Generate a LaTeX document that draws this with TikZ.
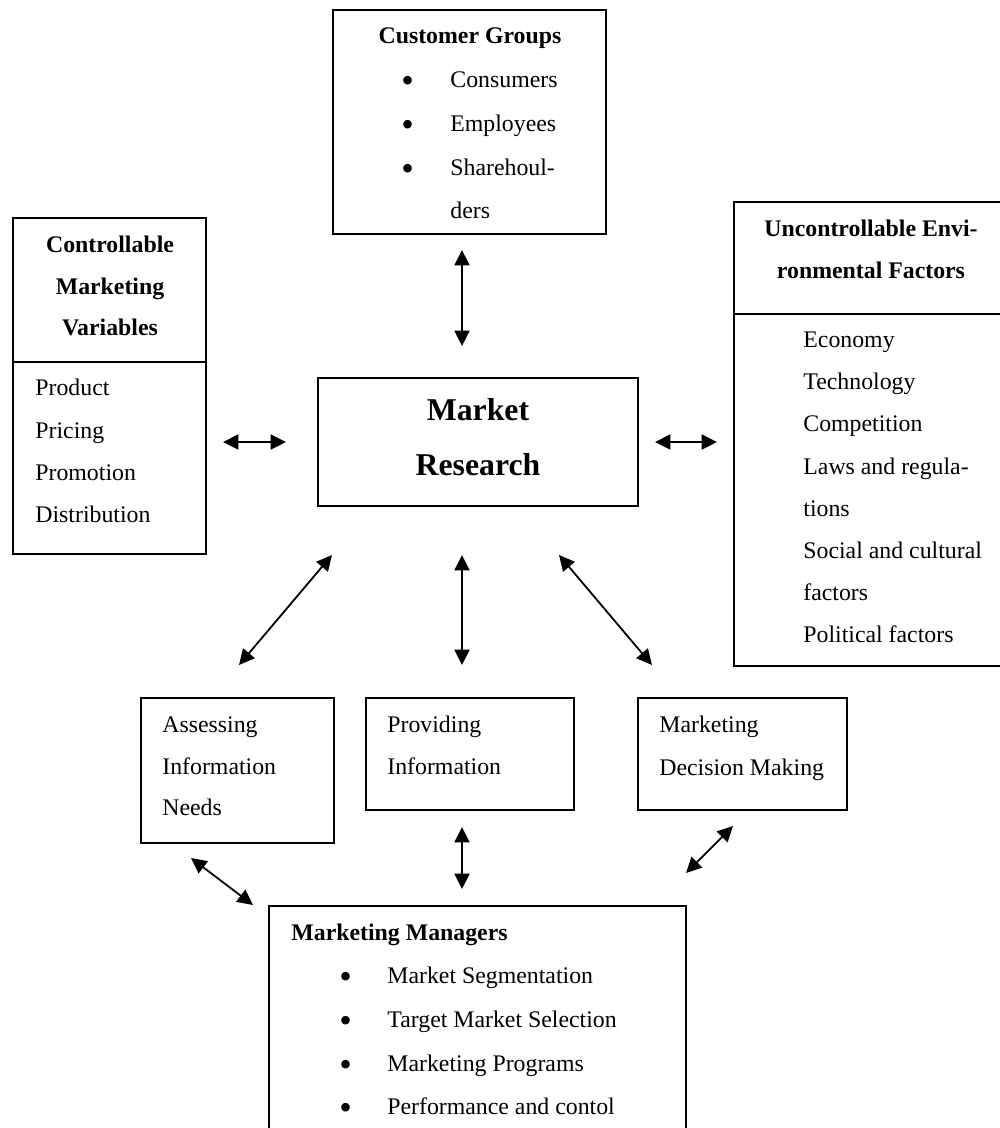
\documentclass[tikz,border=0pt]{standalone}
\usepackage{fontspec}
\setmainfont{Liberation Serif}
\usetikzlibrary{arrows.meta,fit}
\begin{document}
\begin{tikzpicture}[x=0.504pt,y=-0.504pt,
  box/.style={draw,line width=1pt,inner sep=0pt},
  sep/.style={line width=1pt},
  txt/.style={inner sep=0pt,anchor=base west,font=\fontsize{12}{14}\selectfont},
  bul/.style={inner sep=0pt,anchor=base west,font=\fontsize{18}{20}\selectfont},
  ttl/.style={inner sep=0pt,anchor=base,font=\fontsize{12}{14}\selectfont\bfseries},
  ttlw/.style={inner sep=0pt,anchor=base west,font=\fontsize{12}{14}\selectfont\bfseries},
  big/.style={inner sep=0pt,anchor=base,font=\fontsize{16}{19}\selectfont\bfseries},
  dbl/.style={line width=0.9pt,{Triangle[length=7.8pt,width=7.6pt]}-{Triangle[length=7.8pt,width=7.6pt]}},
]
\useasboundingbox (0,0) rectangle (1000,1128);
\clip (0,0) rectangle (1000,1128);

% ---------- boxes ----------
\node[box,fit={(333,10) (606,234)}] (cust) {};
\node[box,fit={(13,218) (206,554)}] (ctrl) {};
\node[box,fit={(318,378) (638,506)}] (mr) {};
\node[box,fit={(734,202) (1010,666)}] (unc) {};
\node[box,fit={(141,698) (334,843)}] (assess) {};
\node[box,fit={(366,698) (574,810)}] (prov) {};
\node[box,fit={(638,698) (847,810)}] (dec) {};
\node[box,fit={(269,906) (686,1140)}] (mgr) {};

\draw[sep] (13,362) -- (206,362);
\draw[sep] (734,314) -- (1010,314);

% ---------- Customer Groups ----------
\node[ttl] (custT) at (470,43) {Customer Groups};
\node[bul] (cb1) at (401,92) {\textbullet};
\node[bul] (cb2) at (401,136) {\textbullet};
\node[bul] (cb3) at (401,180) {\textbullet};
\node[txt] (c1) at (450,87) {Consumers};
\node[txt] (c2) at (450,131) {Employees};
\node[txt] (c3) at (450,175) {Sharehoul-};
\node[txt] (c4) at (450,218) {ders};

% ---------- Controllable ----------
\node[ttl] (ctT1) at (110,252) {Controllable};
\node[ttl] (ctT2) at (110,294) {Marketing};
\node[ttl] (ctT3) at (110,335) {Variables};
\node[txt] (p1) at (35,395) {Product};
\node[txt] (p2) at (35,438) {Pricing};
\node[txt] (p3) at (35,480) {Promotion};
\node[txt] (p4) at (35,522) {Distribution};

% ---------- Market Research ----------
\node[big] (mr1) at (478,420) {Market};
\node[big] (mr2) at (478,475) {Research};

% ---------- Uncontrollable ----------
\node[ttl] (uT1) at (871,236) {Uncontrollable Envi-};
\node[ttl] (uT2) at (871,278) {ronmental Factors};
\node[txt] (u1) at (803,347) {Economy};
\node[txt] (u2) at (803,389) {Technology};
\node[txt] (u3) at (803,431) {Competition};
\node[txt] (u4) at (803,474) {Laws and regula-};
\node[txt] (u5) at (803,516) {tions};
\node[txt] (u6) at (803,558) {Social and cultural};
\node[txt] (u7) at (803,600) {factors};
\node[txt] (u8) at (803,642) {Political factors};

% ---------- middle row ----------
\node[txt] (as1) at (162,732) {Assessing};
\node[txt] (as2) at (162,774) {Information};
\node[txt] (as3) at (162,815) {Needs};
\node[txt] (pr1) at (387,732) {Providing};
\node[txt] (pr2) at (387,774) {Information};
\node[txt] (de1) at (659,732) {Marketing};
\node[txt] (de2) at (659,775) {Decision Making};

% ---------- Marketing Managers ----------
\node[ttlw] (mgT) at (291,940) {Marketing Managers};
\node[bul] (mb1) at (339,988) {\textbullet};
\node[bul] (mb2) at (339,1032) {\textbullet};
\node[bul] (mb3) at (339,1076) {\textbullet};
\node[bul] (mb4) at (339,1119) {\textbullet};
\node[txt] (m1) at (387,983) {Market Segmentation};
\node[txt] (m2) at (387,1027) {Target Market Selection};
\node[txt] (m3) at (387,1071) {Marketing Programs};
\node[txt] (m4) at (387,1114) {Performance and contol};

% ---------- arrow end points ----------
\coordinate (a1s) at (462,250);  \coordinate (a1e) at (462,346);
\coordinate (a2s) at (223,442);  \coordinate (a2e) at (286,442);
\coordinate (a3s) at (655,442);  \coordinate (a3e) at (717,442);
\coordinate (a4s) at (332,555);  \coordinate (a4e) at (239,665);
\coordinate (a5s) at (462,555);  \coordinate (a5e) at (462,665);
\coordinate (a6s) at (559,555);  \coordinate (a6e) at (652,665);
\coordinate (a7s) at (191,858);  \coordinate (a7e) at (253,905);
\coordinate (a8s) at (462,827);  \coordinate (a8e) at (462,889);
\coordinate (a9s) at (733,826);  \coordinate (a9e) at (686,873);

\draw[dbl] (a1s) -- (a1e);
\draw[dbl] (a2s) -- (a2e);
\draw[dbl] (a3s) -- (a3e);
\draw[dbl] (a4s) -- (a4e);
\draw[dbl] (a5s) -- (a5e);
\draw[dbl] (a6s) -- (a6e);
\draw[dbl] (a7s) -- (a7e);
\draw[dbl] (a8s) -- (a8e);
\draw[dbl] (a9s) -- (a9e);
\end{tikzpicture}
\end{document}
